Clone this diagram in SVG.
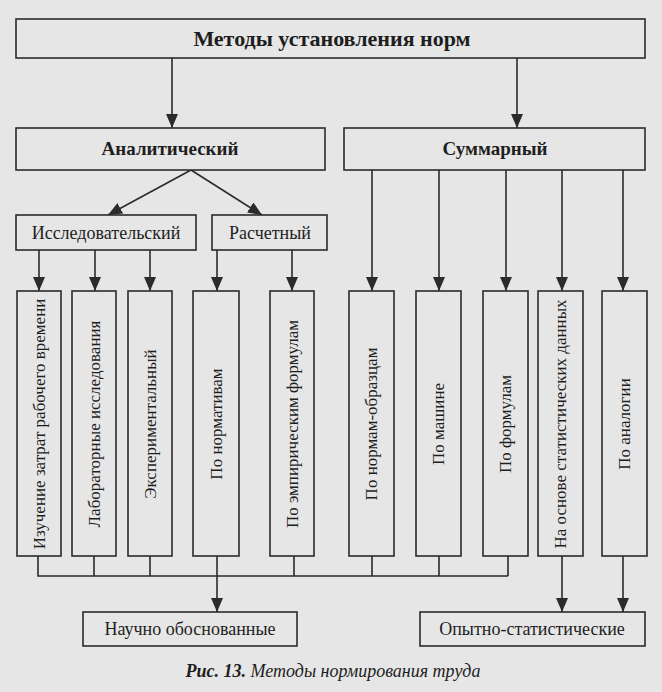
<svg xmlns="http://www.w3.org/2000/svg" width="662" height="692" viewBox="0 0 662 692">
<style>
.box{fill:#e6e6e6;stroke:#2b2b2b;stroke-width:1.6}
.t{font-family:"Liberation Serif","Times New Roman",serif;fill:#1e1e1e}
.h{font-size:18px;text-anchor:middle}
.b{font-size:19px;font-weight:bold;text-anchor:middle}
.title{font-size:22px}
.v{font-size:17px;text-anchor:middle;dominant-baseline:central}
.c{stroke:#2b2b2b;stroke-width:1.6;fill:none}
.cap{font-family:"Liberation Serif","Times New Roman",serif;font-size:18px;font-style:italic;fill:#1e1e1e}
</style>
<defs>
<marker id="av" markerUnits="userSpaceOnUse" markerWidth="14" markerHeight="12" viewBox="0 0 14 12" refX="14" refY="6" orient="auto">
<path d="M0,0 L14,6 L0,12 Z" fill="#2b2b2b"/>
</marker>
</defs>
<rect x="0" y="0" width="662" height="692" fill="#e6e6e6"/>

<g id="connectors">
<line class="c" x1="172" y1="58" x2="172" y2="128" marker-end="url(#av)"/>
<line class="c" x1="517" y1="58" x2="517" y2="128" marker-end="url(#av)"/>
<line class="c" x1="191" y1="170" x2="108" y2="215" marker-end="url(#av)"/>
<line class="c" x1="191" y1="170" x2="262" y2="215" marker-end="url(#av)"/>
<line class="c" x1="39" y1="250" x2="39" y2="291" marker-end="url(#av)"/>
<line class="c" x1="95" y1="250" x2="95" y2="291" marker-end="url(#av)"/>
<line class="c" x1="150" y1="250" x2="150" y2="291" marker-end="url(#av)"/>
<line class="c" x1="217" y1="250" x2="217" y2="291" marker-end="url(#av)"/>
<line class="c" x1="292" y1="250" x2="292" y2="291" marker-end="url(#av)"/>
<line class="c" x1="372" y1="170" x2="372" y2="291" marker-end="url(#av)"/>
<line class="c" x1="439" y1="170" x2="439" y2="291" marker-end="url(#av)"/>
<line class="c" x1="506" y1="170" x2="506" y2="291" marker-end="url(#av)"/>
<line class="c" x1="562" y1="170" x2="562" y2="291" marker-end="url(#av)"/>
<line class="c" x1="623" y1="170" x2="623" y2="291" marker-end="url(#av)"/>
<path class="c" d="M38,556 V576 H508 M94,556 V576 M150,556 V576 M294,556 V576 M372,556 V576 M439,556 V576 M508,556 V576"/>
<line class="c" x1="217" y1="556" x2="217" y2="612" marker-end="url(#av)"/>
<line class="c" x1="562" y1="556" x2="562" y2="612" marker-end="url(#av)"/>
<line class="c" x1="623" y1="556" x2="623" y2="612" marker-end="url(#av)"/>
</g>

<g id="root"><rect class="box" x="16" y="19" width="629" height="39"/><text class="t b title" x="332" y="46">Методы установления норм</text></g>
<g id="analytic"><rect class="box" x="16" y="128" width="309" height="42"/><text class="t b" x="170" y="155">Аналитический</text></g>
<g id="summary"><rect class="box" x="344" y="128" width="301" height="42"/><text class="t b" x="495" y="155">Суммарный</text></g>
<g id="research"><rect class="box" x="16" y="215" width="180" height="35"/><text class="t h" x="106" y="239">Исследовательский</text></g>
<g id="calc"><rect class="box" x="212" y="215" width="115" height="35"/><text class="t h" x="270" y="239">Расчетный</text></g>

<g id="m1"><rect class="box" x="17" y="291" width="44" height="265"/><text class="t v" transform="translate(39,424) rotate(-90)">Изучение затрат рабочего времени</text></g>
<g id="m2"><rect class="box" x="72" y="291" width="44" height="265"/><text class="t v" transform="translate(94,424) rotate(-90)">Лабораторные исследования</text></g>
<g id="m3"><rect class="box" x="128" y="291" width="44" height="265"/><text class="t v" transform="translate(150,424) rotate(-90)">Экспериментальный</text></g>
<g id="m4"><rect class="box" x="193" y="291" width="46" height="265"/><text class="t v" transform="translate(216,424) rotate(-90)">По нормативам</text></g>
<g id="m5"><rect class="box" x="270" y="291" width="44" height="265"/><text class="t v" transform="translate(292,424) rotate(-90)">По эмпирическим формулам</text></g>
<g id="m6"><rect class="box" x="349" y="291" width="45" height="265"/><text class="t v" transform="translate(371,424) rotate(-90)">По нормам-образцам</text></g>
<g id="m7"><rect class="box" x="416" y="291" width="45" height="265"/><text class="t v" transform="translate(438,424) rotate(-90)">По машине</text></g>
<g id="m8"><rect class="box" x="483" y="291" width="45" height="265"/><text class="t v" transform="translate(505,424) rotate(-90)">По формулам</text></g>
<g id="m9"><rect class="box" x="538" y="291" width="45" height="265"/><text class="t v" transform="translate(560,424) rotate(-90)">На основе статистических данных</text></g>
<g id="m10"><rect class="box" x="602" y="291" width="45" height="265"/><text class="t v" transform="translate(624,424) rotate(-90)">По аналогии</text></g>

<g id="scientific"><rect class="box" x="83" y="612" width="214" height="34"/><text class="t h" x="190" y="635">Научно обоснованные</text></g>
<g id="empirical"><rect class="box" x="420" y="612" width="225" height="34"/><text class="t h" x="532" y="635">Опытно-статистические</text></g>

<text class="cap" x="333" y="677" text-anchor="middle"><tspan font-weight="bold">Рис. 13.</tspan> Методы нормирования труда</text>
</svg>
